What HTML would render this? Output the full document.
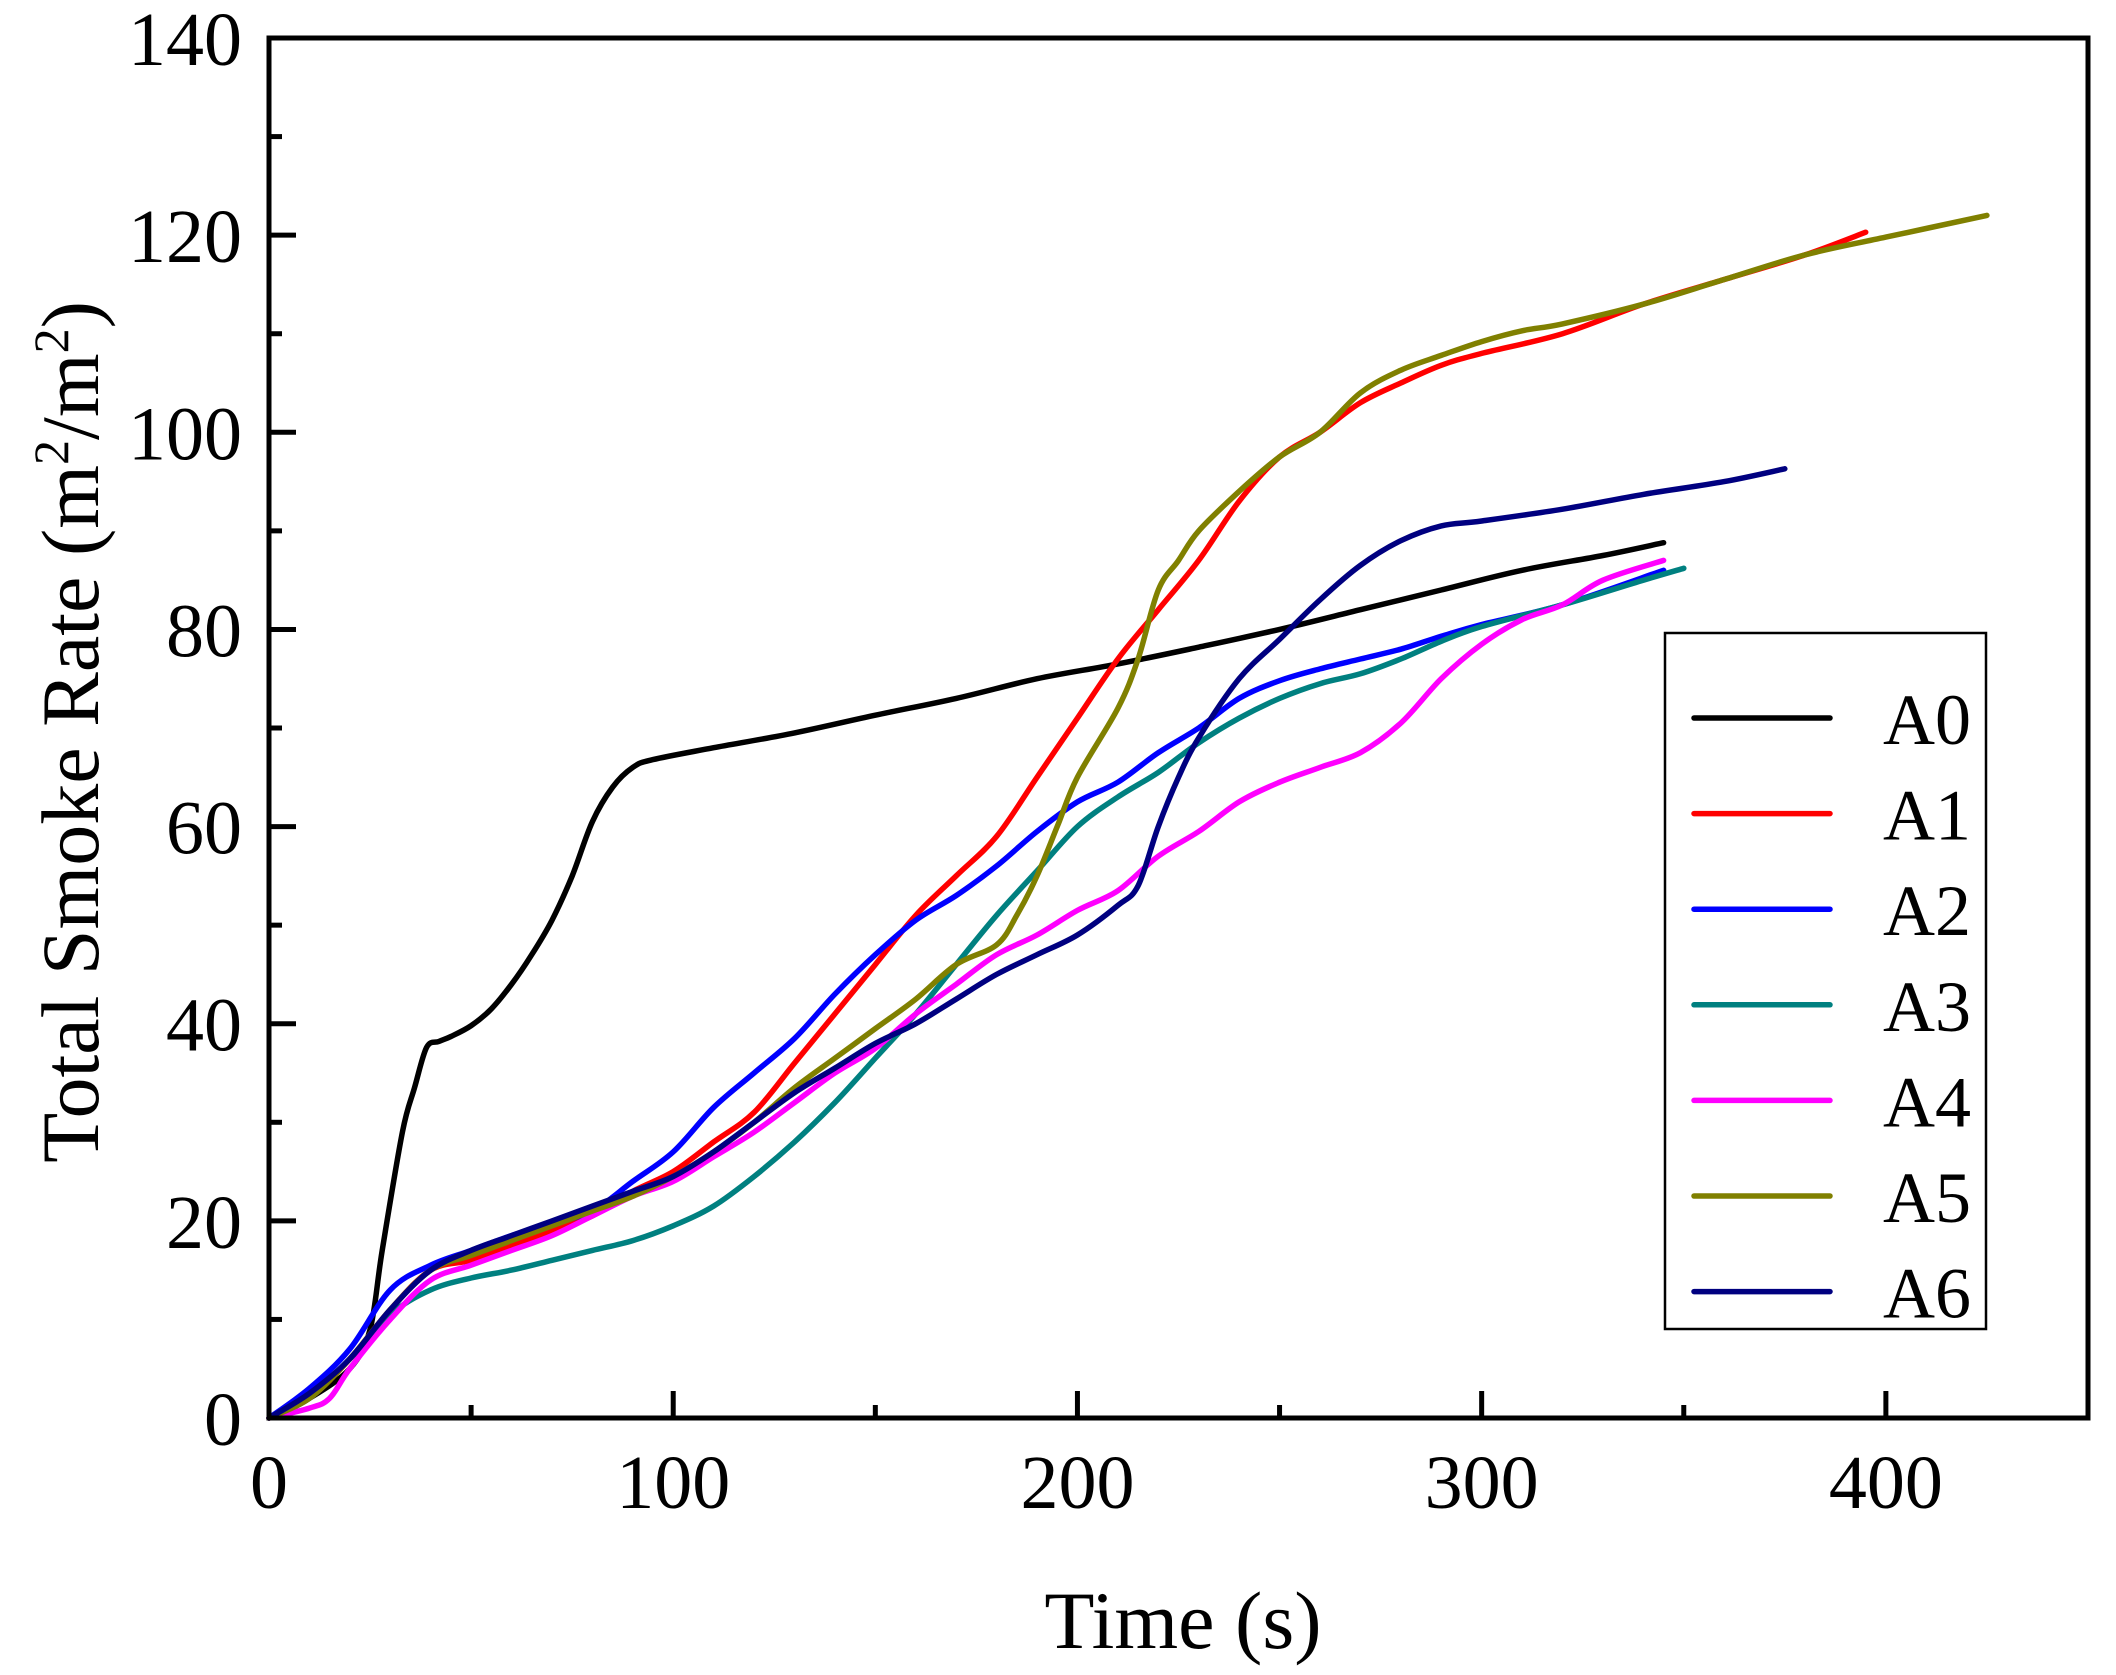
<!DOCTYPE html>
<html><head><meta charset="utf-8"><style>
html,body{margin:0;padding:0;background:#fff;}
svg{display:block;}
text{font-family:"Liberation Serif",serif;fill:#000;}
</style></head><body>
<svg id="s" width="2116" height="1675" xmlns="http://www.w3.org/2000/svg">
<rect width="2116" height="1675" fill="#fff"/>
<g id="ticks"></g>
<g id="series" fill="none" stroke-width="5.5" stroke-linejoin="round" stroke-linecap="round"></g>
<rect x="269" y="38" width="1819" height="1380" fill="none" stroke="#000" stroke-width="5"/>
<g font-size="76" id="labels"></g>
<text x="1183" y="1648" font-size="82" text-anchor="middle">Time (s)</text>
<text transform="translate(98,732) rotate(-90)" font-size="82" text-anchor="middle">Total Smoke Rate (m<tspan font-size="50" dy="-30">2</tspan><tspan dy="30">/m</tspan><tspan font-size="50" dy="-30">2</tspan><tspan dy="30">)</tspan></text>
<rect x="1665" y="633" width="321" height="696" fill="#fff" stroke="#000" stroke-width="2.5"/>
<g id="legend" stroke-width="5.5" stroke-linecap="round" font-size="72"></g>
</svg>
<script>
var X=function(v){return 269+v*4.0422;},Y=function(v){return 1418-v*9.857;};
var ns="http://www.w3.org/2000/svg";
function el(p,t,a,txt){var e=document.createElementNS(ns,t);for(var k in a)e.setAttribute(k,a[k]);if(txt!==undefined)e.textContent=txt;p.appendChild(e);return e;}
var tk=document.getElementById('ticks'),lb=document.getElementById('labels');
for(var v=0;v<=450;v+=50){var L=(v%100==0)?27:13;el(tk,'line',{x1:X(v),x2:X(v),y1:1418,y2:1418-L,stroke:'#000','stroke-width':5});
 if(v%100==0)el(lb,'text',{x:X(v),y:1508,'text-anchor':'middle'},v);}
for(var v=0;v<=140;v+=10){var L=(v%20==0)?27:13;el(tk,'line',{x1:269,x2:269+L,y1:Y(v),y2:Y(v),stroke:'#000','stroke-width':5});
 if(v%20==0)el(lb,'text',{x:242,y:Y(v)+27,'text-anchor':'end'},v);}
var S=[
['#000000','A0',[[0,0],[10,2],[20,5],[25,9],[28,17],[33,29],[36,33.5],[39,37.6],[42,38.2],[45,38.7],[50,39.8],[55,41.5],[60,44],[65,47],[70,50.5],[75,55],[80,60.5],[85,64],[90,66],[95,66.8],[110,68],[130,69.5],[150,71.3],[170,73],[190,75],[210,76.5],[230,78.2],[250,80],[270,82],[290,84],[310,86],[330,87.5],[345,88.8]]],
['#ff0000','A1',[[0,0],[10,2],[20,6],[30,11],[40,15],[50,16],[60,17.5],[70,19],[80,20.5],[90,23],[100,25],[110,28],[120,31],[130,36],[140,41],[150,46],[160,51],[170,55],[180,59],[190,65],[200,71],[210,77],[220,82],[230,87],[240,93],[250,97.5],[260,100],[270,103],[280,105],[290,106.8],[300,108],[320,110],[340,113],[360,115.5],[380,118],[395,120.3]]],
['#0000ff','A2',[[0,0],[10,3],[20,7],[30,13],[40,15.5],[50,17],[60,18.5],[70,19.7],[80,21],[90,24],[100,27],[110,31.5],[120,35],[130,38.5],[140,43],[150,47],[160,50.5],[170,53],[180,56],[190,59.5],[200,62.5],[210,64.5],[220,67.5],[230,70],[240,73],[250,74.8],[260,76],[270,77],[280,78],[290,79.3],[300,80.5],[320,82.5],[345,86]]],
['#008080','A3',[[0,0],[10,2],[20,6],[30,10.5],[40,13],[50,14.2],[60,15],[70,16],[80,17],[90,18],[100,19.5],[110,21.5],[120,24.5],[130,28],[140,32],[150,36.5],[160,41],[170,46],[180,51],[190,55.5],[200,60],[210,63],[220,65.5],[230,68.5],[240,71],[250,73],[260,74.5],[270,75.5],[280,77],[290,78.8],[300,80.3],[320,82.5],[340,85],[350,86.2]]],
['#ff00ff','A4',[[0,0],[10,1],[15,2],[20,5],[30,10],[40,14],[50,15.5],[60,17],[70,18.5],[80,20.5],[90,22.5],[100,24],[110,26.5],[120,29],[130,32],[140,35],[150,37.5],[160,41],[170,44],[180,47],[190,49],[200,51.5],[210,53.5],[220,57],[230,59.5],[240,62.5],[250,64.5],[260,66],[270,67.5],[280,70.5],[290,75],[300,78.5],[310,81],[320,82.5],[330,85],[345,87]]],
['#808000','A5',[[0,0],[10,2],[20,6],[30,11],[40,15],[50,16.5],[60,18],[70,19.5],[80,21],[90,22.5],[100,24.5],[110,27],[120,30],[130,33.5],[140,36.5],[150,39.5],[160,42.5],[170,46],[180,48],[185,51],[190,55],[195,60],[200,65],[210,72],[215,77],[220,84],[225,87],[230,90],[240,94],[250,97.5],[260,100],[270,104],[280,106.3],[290,107.8],[300,109.2],[310,110.3],[320,111],[340,113],[360,115.5],[380,118],[400,119.8],[425,122]]],
['#000080','A6',[[0,0],[10,2.5],[20,6],[30,11],[40,15],[50,17],[60,18.5],[70,20],[80,21.5],[90,23],[100,24.5],[110,27],[120,30],[130,33],[140,35.5],[150,38],[160,40],[170,42.5],[180,45],[190,47],[200,49],[210,52],[215,54],[220,60],[225,65],[230,69],[240,75],[250,79],[260,83],[270,86.5],[280,89],[290,90.5],[300,91],[320,92.2],[340,93.7],[360,95],[375,96.3]]]
];
function smooth(pts){
 var p=pts.map(function(q){return [X(q[0]),Y(q[1])];});
 var d='M'+p[0][0].toFixed(1)+','+p[0][1].toFixed(1);
 for(var i=0;i<p.length-1;i++){
  var p0=p[i>0?i-1:i],p1=p[i],p2=p[i+1],p3=p[i+2<p.length?i+2:i+1];
  var c1=[p1[0]+(p2[0]-p0[0])/6,p1[1]+(p2[1]-p0[1])/6];
  var c2=[p2[0]-(p3[0]-p1[0])/6,p2[1]-(p3[1]-p1[1])/6];
  d+=' C'+c1[0].toFixed(1)+','+c1[1].toFixed(1)+' '+c2[0].toFixed(1)+','+c2[1].toFixed(1)+' '+p2[0].toFixed(1)+','+p2[1].toFixed(1);
 }
 return d;
}
var sg=document.getElementById('series'),lg=document.getElementById('legend');
S.forEach(function(s,i){
 el(sg,'path',{stroke:s[0],d:smooth(s[2])});
 var y=718+i*95.6;
 el(lg,'line',{x1:1694,x2:1830,y1:y,y2:y,stroke:s[0]});
 el(lg,'text',{x:1883,y:y+26},s[1]);
});
</script>
</body></html>
